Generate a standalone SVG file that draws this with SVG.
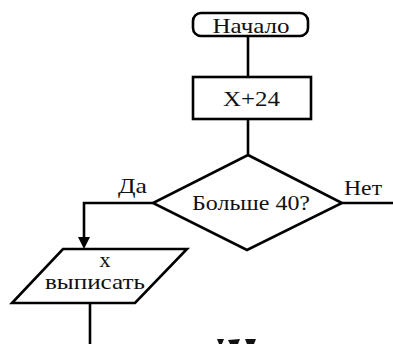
<svg xmlns="http://www.w3.org/2000/svg" width="393" height="344" viewBox="0 0 393 344">
<style>
.s{fill:#fff;stroke:#000;stroke-width:2.6}
.c{fill:none;stroke:#000;stroke-width:2.6}
.t{font-family:"Liberation Serif","Times New Roman",serif;font-size:21px;fill:#111;text-anchor:middle}
</style>
<rect width="393" height="344" fill="#fff"/>
<g id="connectors">
<line class="c" x1="248" y1="36" x2="248" y2="77"/>
<line class="c" x1="248" y1="119" x2="248" y2="155"/>
<line class="c" x1="342" y1="203" x2="393" y2="203"/>
<path class="c" d="M153,203 L84,203 L84,238"/>
<path d="M78,237 L90,237 L84,249 Z" fill="#000"/>
<line class="c" x1="90" y1="303" x2="90" y2="344"/>
<path d="M217,339 L224,339 L222,344 L219,344 Z M228,340 L240,339 L238,344 L230,344 Z M245,339 L256,339 L254,344 L247,344 Z" fill="#111"/>
</g>
<g id="start">
<rect class="s" x="193" y="13" width="115" height="23" rx="8"/>
<text class="t" x="251" y="33" textLength="77" lengthAdjust="spacingAndGlyphs">Начало</text>
</g>
<g id="process">
<rect class="s" x="193" y="77" width="118" height="42"/>
<text class="t" x="251.5" y="106" textLength="57" lengthAdjust="spacingAndGlyphs">X+24</text>
</g>
<g id="decision">
<polygon class="s" points="248,155 342,203 247,250 153,203"/>
<text class="t" x="251" y="210" textLength="118" lengthAdjust="spacingAndGlyphs">Больше 40?</text>
</g>
<g id="label-yes">
<text class="t" x="132.5" y="193" textLength="29" lengthAdjust="spacingAndGlyphs">Да</text>
</g>
<g id="label-no">
<text class="t" x="363" y="195" textLength="38" lengthAdjust="spacingAndGlyphs">Нет</text>
</g>
<g id="output">
<polygon class="s" points="63,249 187,249 135,303 12,303"/>
<text class="t" x="105" y="267" textLength="11" lengthAdjust="spacingAndGlyphs">x</text>
<text class="t" x="95" y="289" textLength="100" lengthAdjust="spacingAndGlyphs">выписать</text>
</g>
</svg>
